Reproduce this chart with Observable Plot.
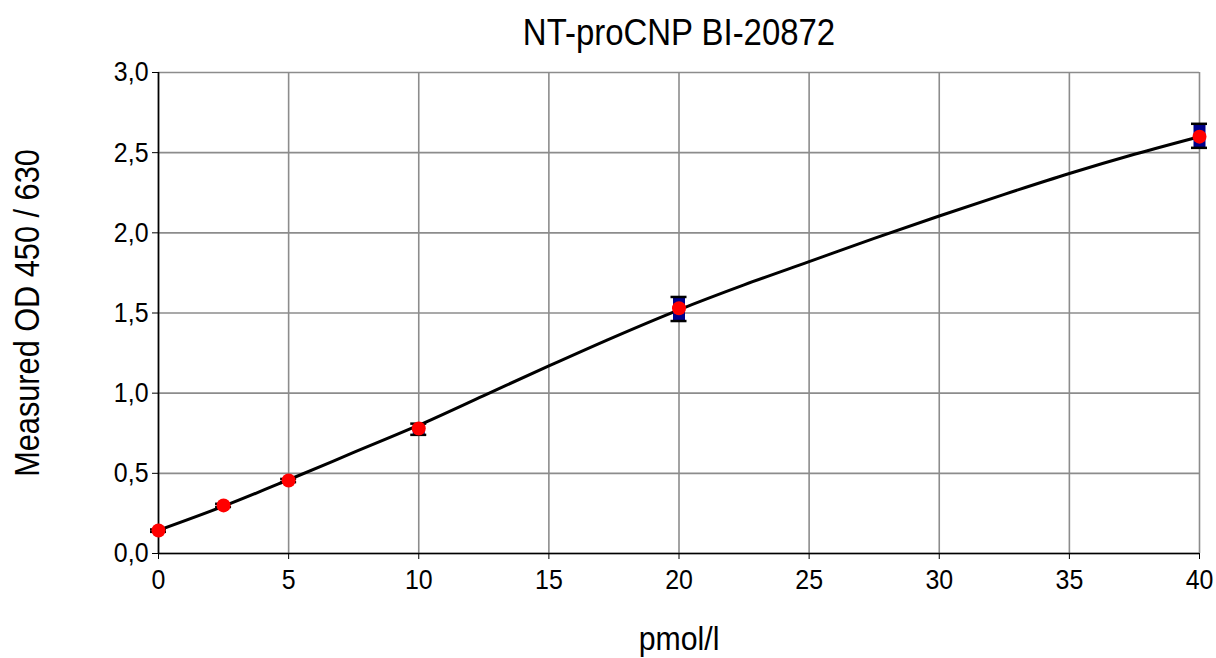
<!DOCTYPE html>
<html>
<head>
<meta charset="utf-8">
<script src="https://cdn.jsdelivr.net/npm/d3@7"></script>
<script src="https://cdn.jsdelivr.net/npm/@observablehq/plot@0.6"></script>
<style>
  html, body { margin: 0; padding: 0; background: #fff; }
  #chart svg { display: block; }
</style>
</head>
<body>
<div id="chart"></div>
<script>
// ---- data ----
const title = "NT-proCNP BI-20872";
const xLabel = "pmol/l";
const yLabel = "Measured OD 450 / 630";

const conc = [0, 2.5, 5, 10, 20, 40];                 // pmol/l
const meanOD = [0.143, 0.30, 0.455, 0.78, 1.53, 2.60];
const lowOD  = [0.135, 0.29, 0.445, 0.74, 1.45, 2.53];
const highOD = [0.150, 0.31, 0.465, 0.81, 1.60, 2.68];

// fitted standard curve
const fitX = [0, 2.5, 5, 7.5, 10, 12.5, 15, 17.5, 20, 22.5, 25, 27.5, 30, 32.5, 35, 37.5, 40];
const fitY = [0.145, 0.295, 0.46, 0.63, 0.80, 0.985, 1.17, 1.35, 1.52, 1.675, 1.82, 1.965, 2.105, 2.24, 2.37, 2.49, 2.60];

const xTicks = [0, 5, 10, 15, 20, 25, 30, 35, 40];
const yTicks = [0, 0.5, 1.0, 1.5, 2.0, 2.5, 3.0];

// ---- tables built from the arrays ----
const points = conc.map((c, i) => ({x: c, y: meanOD[i], lo: lowOD[i], hi: highOD[i]}));
const fit = fitX.map((x, i) => ({x, y: fitY[i]}));

const font = "'Liberation Sans', Arial, sans-serif";
const fmtY = d => d.toFixed(1).replace(".", ",");

const chart = Plot.plot({
  width: 1216,
  height: 658,
  marginLeft: 158,
  marginRight: 17,
  marginTop: 72,
  marginBottom: 105,
  style: {fontFamily: font, fontSize: "28px", color: "#000", background: "#fff"},
  x: {type: "linear", domain: [0, 40]},
  y: {type: "linear", domain: [0, 3]},
  marks: [
    Plot.gridX(xTicks, {stroke: "#8c8c8c", strokeOpacity: 1, strokeWidth: 1.6}),
    Plot.gridY(yTicks, {stroke: "#8c8c8c", strokeOpacity: 1, strokeWidth: 1.6}),
    Plot.axisX(xTicks, {tickSize: 6, tickPadding: 10, tickFormat: d => String(d), fontSize: 28, label: null, stroke: "#000"}),
    Plot.axisY(yTicks, {tickSize: 6, tickPadding: 4, tickFormat: fmtY, fontSize: 28, label: null, stroke: "#000"}),
    Plot.ruleX([0], {stroke: "#000", strokeWidth: 1.6}),
    Plot.ruleY([0], {stroke: "#000", strokeWidth: 1.6}),
    Plot.line(fit, {x: "x", y: "y", curve: "monotone-x", stroke: "#000", strokeWidth: 3}),
    Plot.ruleX(points, {x: "x", y1: "lo", y2: "hi", stroke: "#00008b", strokeWidth: 12}),
    Plot.ruleY(points, {y: "hi", x1: "x", x2: "x", insetLeft: -8, insetRight: -8, stroke: "#000", strokeWidth: 2.5}),
    Plot.ruleY(points, {y: "lo", x1: "x", x2: "x", insetLeft: -8, insetRight: -8, stroke: "#000", strokeWidth: 2.5}),
    Plot.dot(points, {x: "x", y: "y", r: 7, fill: "#ff0000", stroke: "none"}),
    Plot.text([title], {frameAnchor: "top", dy: -39, fontSize: 37, textAnchor: "middle", lineAnchor: "middle", fill: "#000"}),
    Plot.text([xLabel], {frameAnchor: "bottom", dy: 86, fontSize: 34, textAnchor: "middle", lineAnchor: "middle", fill: "#000"}),
    Plot.text([yLabel], {frameAnchor: "left", dx: -131, rotate: -90, fontSize: 34.5, textAnchor: "middle", lineAnchor: "middle", fill: "#000"})
  ]
});
// condense the glyphs horizontally to mimic the reference's narrow typeface
d3.select(chart).selectAll("text").each(function () {
  const tr = this.getAttribute("transform") || "";
  this.setAttribute("transform", tr + " scale(0.89,1)");
  const x = this.getAttribute("x");
  if (x != null && x !== "" && !isNaN(+x)) this.setAttribute("x", +x / 0.89);
});
document.getElementById("chart").appendChild(chart);
</script>
</body>
</html>
